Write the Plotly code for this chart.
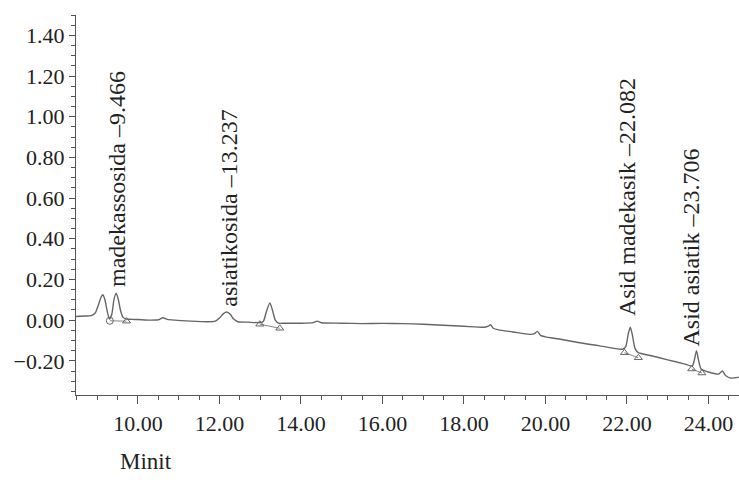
import plotly.graph_objects as go

# Chromatogram trace: retention time (min) and detector response
time_min = [8.48, 8.70, 8.85, 8.95, 9.03, 9.10, 9.14, 9.19, 9.24, 9.30, 9.36, 9.41, 9.466,
            9.52, 9.57, 9.63, 9.72, 9.85, 10.00, 10.30, 10.50, 10.61, 10.72, 10.90,
            11.30, 11.70, 11.90, 12.00, 12.10, 12.18, 12.27, 12.35, 12.45, 12.70, 13.00,
            13.08, 13.15, 13.237, 13.30, 13.37, 13.45, 13.60, 14.00, 14.30, 14.40, 14.50,
            15.00, 15.50, 16.00, 16.50, 17.00, 17.50, 18.00, 18.50, 18.60, 18.65, 18.72,
            18.85, 19.20, 19.60, 19.72, 19.80, 19.88, 20.00, 20.34, 20.80, 21.30, 21.89,
            21.97, 22.03, 22.082, 22.13, 22.20, 22.28, 22.60, 23.00, 23.40, 23.60, 23.65,
            23.706, 23.76, 23.82, 24.00, 24.25, 24.34, 24.42, 24.55, 24.65, 24.75]
response = [0.018, 0.020, 0.022, 0.035, 0.075, 0.115, 0.125, 0.100, 0.050, 0.005, 0.030, 0.100, 0.133,
            0.100, 0.050, 0.015, 0.005, 0.004, 0.003, 0.000, 0.002, 0.012, 0.004, 0.000,
            -0.005, -0.008, -0.005, 0.010, 0.032, 0.040, 0.028, 0.005, -0.008, -0.010, -0.012,
            -0.005, 0.040, 0.085, 0.050, 0.000, -0.015, -0.015, -0.015, -0.012, -0.005, -0.013,
            -0.015, -0.017, -0.016, -0.017, -0.020, -0.025, -0.030, -0.035, -0.030, -0.022, -0.040,
            -0.048, -0.058, -0.070, -0.068, -0.055, -0.075, -0.082, -0.093, -0.110, -0.125, -0.143,
            -0.130, -0.070, -0.035, -0.070, -0.140, -0.160, -0.175, -0.195, -0.215, -0.226, -0.200,
            -0.150, -0.200, -0.240, -0.255, -0.265, -0.250, -0.272, -0.285, -0.283, -0.280]

# Integration start/end points for each identified peak
peak_start_t = [9.31, 12.99, 21.94, 23.59]
peak_start_v = [-0.003, -0.020, -0.160, -0.240]
peak_end_t = [9.72, 13.48, 22.28, 23.84]
peak_end_v = [-0.005, -0.040, -0.185, -0.260]
start_symbols = ["circle-open", "triangle-up-open", "triangle-up-open", "triangle-up-open"]

# Peak labels and where they are written
peak_labels = ["madekassosida \u20139.466", "asiatikosida \u201313.237",
               "Asid madekasik \u201322.082", "Asid asiatik \u201323.706"]
label_t = [9.47, 12.23, 21.99, 23.58]
label_v = [0.155, 0.058, 0.008, -0.138]

x_range = [8.48, 24.75]
y_range = [-0.368, 1.50]

FONT = "Liberation Serif, serif"
TRACE = "#666666"
AXIS = "#555555"
TEXT = "#222222"

fig = go.Figure()

fig.add_trace(go.Scatter(
    x=time_min, y=response, mode="lines",
    line=dict(color=TRACE, width=1.4, shape="spline", smoothing=0.6),
    showlegend=False, hoverinfo="skip"))

# baseline segments under integrated peaks
for t0, v0, t1, v1 in zip(peak_start_t, peak_start_v, peak_end_t, peak_end_v):
    fig.add_trace(go.Scatter(
        x=[t0, t1], y=[v0, v1], mode="lines",
        line=dict(color=TRACE, width=0.8),
        showlegend=False, hoverinfo="skip"))

fig.add_trace(go.Scatter(
    x=peak_start_t + peak_end_t, y=peak_start_v + peak_end_v, mode="markers",
    marker=dict(symbol=start_symbols + ["triangle-up-open"] * len(peak_end_t),
                size=7, color=TRACE, line=dict(width=1, color=TRACE)),
    showlegend=False, hoverinfo="skip"))

for txt, t, v in zip(peak_labels, label_t, label_v):
    fig.add_annotation(
        x=t, y=v, text=txt, showarrow=False, textangle=-90,
        xanchor="center", yanchor="bottom",
        font=dict(family=FONT, size=24, color=TEXT))

fig.add_annotation(
    xref="paper", yref="paper", x=0.063, y=-0.176, text="Minit",
    showarrow=False, xanchor="left", yanchor="middle",
    font=dict(family=FONT, size=23, color=TEXT))

fig.update_xaxes(
    range=x_range, dtick=2, tick0=0, tickformat=".2f",
    showgrid=False, zeroline=False, showline=True, linecolor=AXIS, linewidth=1.2,
    ticks="outside", ticklen=8, tickcolor=AXIS, tickwidth=1,
    minor=dict(dtick=0.5, ticks="outside", ticklen=4, tickcolor=AXIS, showgrid=False),
    tickfont=dict(family=FONT, size=22, color=TEXT))

fig.update_yaxes(
    range=y_range, dtick=0.2, tick0=0, tickformat=".2f",
    showgrid=False, zeroline=False, showline=True, linecolor=AXIS, linewidth=1.2,
    ticks="outside", ticklen=6, tickcolor=AXIS, tickwidth=1,
    minor=dict(dtick=0.05, ticks="outside", ticklen=4, tickcolor=AXIS, showgrid=False),
    tickfont=dict(family=FONT, size=22, color=TEXT))

fig.update_layout(
    width=739, height=485,
    margin=dict(l=76, r=0, t=15, b=90),
    paper_bgcolor="white", plot_bgcolor="white",
    font=dict(family=FONT, color=TEXT))

fig.write_html("out.html")
